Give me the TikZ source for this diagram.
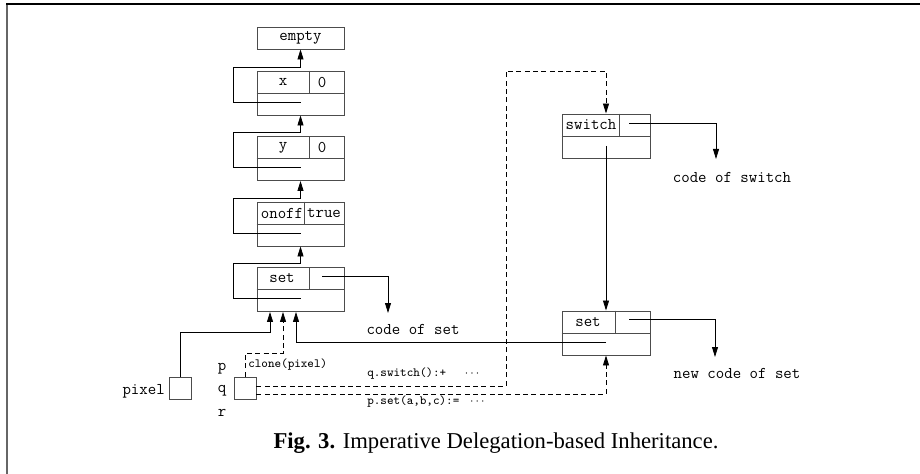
\documentclass[tikz,border=0pt]{standalone}
\usepackage{fontspec}
\setmainfont{Liberation Serif}
\usetikzlibrary{arrows.meta,calc}
\tikzset{
  objbox/.style={draw=black!70, line width=0.7pt, minimum width=65.25pt, minimum height=33pt, inner sep=0pt},
  emptybox/.style={objbox, minimum height=16.5pt},
  refbox/.style={draw=black!70, line width=0.7pt, minimum width=16.5pt, minimum height=16.5pt, inner sep=0pt},
  cellline/.style={draw=black!70, line width=0.7pt},
  fieldtext/.style={font=\ttfamily\fontsize{12.3}{14}\selectfont, inner sep=0pt},
  smalltext/.style={font=\ttfamily\fontsize{9.4}{11}\selectfont, inner sep=0pt},
  parentlink/.style={draw=black, line width=0.6pt, -{Triangle[length=7.5pt,width=4.5pt]}},
  clonelink/.style={parentlink, dash pattern=on 3.75pt off 2.5pt},
  captiontext/.style={font=\fontsize{17}{19}\selectfont, inner sep=0pt},
}

\begin{document}
\begin{tikzpicture}[x=0.75pt, y=-0.75pt]
\useasboundingbox (0,0) rectangle (920,474);
\draw[black!60, line width=1.5pt] (7,474) -- (7,4);
\draw[black, line width=0.8pt] (6,4) -- (920,4);

\node[emptybox, fieldtext] (empty) at (300.5,38) {empty};

\node[objbox] (xobj) at (300.5,93) {};
\draw[cellline] (xobj.west) -- (xobj.east);
\draw[cellline] ($(xobj.north)+(8.5,0)$) -- ($(xobj.center)+(8.5,0)$);
\node[fieldtext] (xname) at (283,82) {x};
\node[fieldtext] (xval) at (322,82) {0};

\node[objbox] (yobj) at (300.5,158.5) {};
\draw[cellline] (yobj.west) -- (yobj.east);
\draw[cellline] ($(yobj.north)+(8.5,0)$) -- ($(yobj.center)+(8.5,0)$);
\node[fieldtext] (yname) at (283,147.5) {y};
\node[fieldtext] (yval) at (322,147.5) {0};

\node[objbox] (onoffobj) at (300.5,224) {};
\draw[cellline] (onoffobj.west) -- (onoffobj.east);
\draw[cellline] ($(onoffobj.north)+(3.5,0)$) -- ($(onoffobj.center)+(3.5,0)$);
\node[fieldtext] (onoffname) at (282,213) {onoff};
\node[fieldtext] (onoffval) at (324,213) {true};

\node[objbox] (setobj) at (300.5,289.5) {};
\draw[cellline] (setobj.west) -- (setobj.east);
\draw[cellline] ($(setobj.north)+(8.5,0)$) -- ($(setobj.center)+(8.5,0)$);
\node[fieldtext] (setname) at (282,278.5) {set};

\node[objbox, minimum width=66pt] (switchobj) at (606,136) {};
\draw[cellline] (switchobj.west) -- (switchobj.east);
\draw[cellline] ($(switchobj.north)+(13,0)$) -- ($(switchobj.center)+(13,0)$);
\node[fieldtext] (switchname) at (591,125) {switch};

\node[objbox, minimum width=66pt] (newsetobj) at (606,333) {};
\draw[cellline] (newsetobj.west) -- (newsetobj.east);
\draw[cellline] ($(newsetobj.north)+(9,0)$) -- ($(newsetobj.center)+(9,0)$);
\node[fieldtext] (newsetname) at (588,322) {set};

\node[refbox] (pixelobj) at (180,388) {};
\node[refbox] (qobj) at (245,388) {};
\node[fieldtext, anchor=east] (pixellbl) at (165,391) {pixel};
\node[fieldtext] (plbl) at (222,369) {p};
\node[fieldtext] (qlbl) at (222,391) {q};
\node[fieldtext] (rlbl) at (222,413) {r};
\node[smalltext, anchor=west] (clonelbl) at (248,365) {clone(pixel)};

\node[fieldtext] (codeset) at (413,329) {code of set};
\node[fieldtext] (codeswitch) at (732,177) {code of switch};
\node[fieldtext] (newcodeset) at (737,373) {new code of set};
\node[smalltext, anchor=west] (switchmsg) at (367,374) {q.switch():+\hspace{14pt}$\cdots$};
\node[smalltext, anchor=west] (setmsg) at (367,402) {p.set(a,b,c):=\hspace{8pt}$\cdots$};

\coordinate (xlink) at ($(xobj.center)+(0,9)$);
\coordinate (ylink) at ($(yobj.center)+(0,9)$);
\coordinate (onofflink) at ($(onoffobj.center)+(0,9)$);
\coordinate (setlink) at ($(setobj.center)+(0,9)$);
\coordinate (switchlink) at ($(switchobj.center)+(0,10)$);
\coordinate (newsetlink) at ($(newsetobj.center)+(0,9)$);
\coordinate (setinA) at ($(setobj.south)+(-30.5,0)$);
\coordinate (setinB) at ($(setobj.south)+(-17.5,0)$);
\coordinate (setinC) at ($(setobj.south)+(-4.5,0)$);
\coordinate (setptr) at ($(setobj.north east)+(-22,9)$);
\coordinate (switchptr) at ($(switchobj.north east)+(-21,10)$);
\coordinate (newsetptr) at ($(newsetobj.north east)+(-21,9)$);
\coordinate (setcode) at (388,313);
\coordinate (switchcode) at (716,159);
\coordinate (newsetcode) at (715,357);
\coordinate (swbend) at (506,71);

\draw[parentlink] (xlink) -| ($(xobj.north west)+(-23,-3.5)$) -| (empty.south);
\draw[parentlink] (ylink) -| ($(yobj.north west)+(-23,-3.5)$) -| (xobj.south);
\draw[parentlink] (onofflink) -| ($(onoffobj.north west)+(-23,-3.5)$) -| (yobj.south);
\draw[parentlink] (setlink) -| ($(setobj.north west)+(-23,-3.5)$) -| (onoffobj.south);
\draw[parentlink] (setptr) -| (setcode);
\draw[parentlink] (switchptr) -| (switchcode);
\draw[parentlink] (newsetptr) -| (newsetcode);
\draw[parentlink] (switchlink) -- (newsetobj.north);
\draw[parentlink] (newsetlink) -| (setinC);
\draw[parentlink] (pixelobj.north) -- ++(0,-44) -| (setinA);
\draw[clonelink] (qobj.north) -- ++(0,-23) -| (setinB);
\draw[clonelink] ($(qobj.east)+(0,-2)$) -| (swbend) -| (switchobj.north);
\draw[clonelink] ($(qobj.east)+(0,6)$) -| (newsetobj.south);

\node[captiontext] (caption) at (496,443) {\textbf{Fig. 3.} Imperative Delegation-based Inheritance.};
\end{tikzpicture}
\end{document}
